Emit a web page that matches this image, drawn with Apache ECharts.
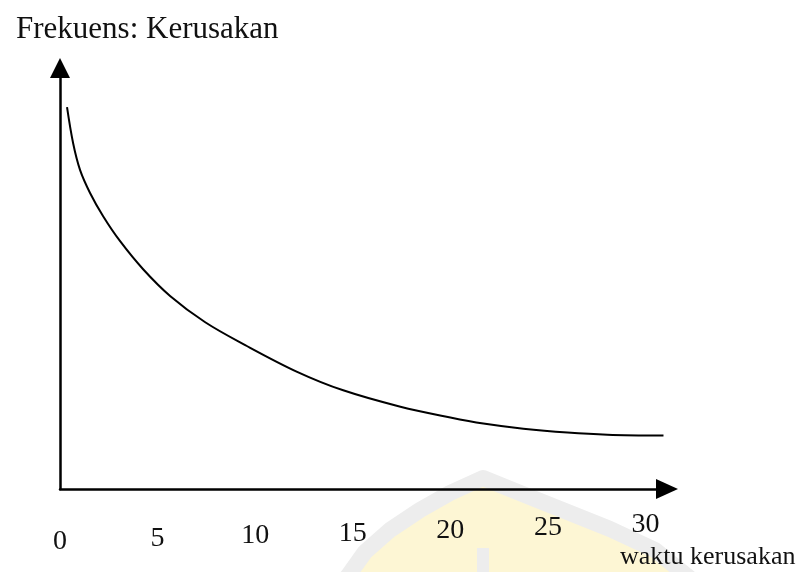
<!DOCTYPE html>
<html>
<head>
<meta charset="utf-8">
<script src="https://cdn.jsdelivr.net/npm/echarts@6/dist/echarts.min.js"></script>
<style>html,body{margin:0;padding:0;background:#fff}#c{width:809px;height:572px}</style>
</head>
<body>
<div id="c"></div>
<script>
var titleText = 'Frekuens: Kerusakan';
var xAxisName = 'waktu kerusakan';
var xTickLabels = [0, 5, 10, 15, 20, 25, 30];
var timeValues = [0.36, 0.67, 1.03, 1.54, 2.21, 3.08, 4.26, 5.64, 7.44, 9.49, 12.15, 14.51, 17.44, 20.0, 21.69, 23.74, 26.0, 28.05, 30.92];
var freqValues = [88.6, 80.3, 74.0, 68.7, 63.3, 57.5, 51.0, 44.8, 38.7, 33.4, 27.2, 22.9, 19.1, 16.6, 15.2, 14.0, 13.1, 12.6, 12.4];

var curve = timeValues.map(function (t, i) { return [t, freqValues[i]]; });

var chart = echarts.init(document.getElementById('c'));
var serif = '"Liberation Serif", "DejaVu Serif", serif';
chart.setOption({
  animation: false,
  backgroundColor: '#ffffff',
  graphic: [
    { type: 'polygon', z: -10, silent: true,
      shape: { points: [[345, 580], [365, 552], [390, 530], [420, 510], [450, 493], [483, 478], [520, 493], [560, 509], [610, 529], [655, 550], [692, 580]] },
      style: { fill: '#fdf6d4', stroke: '#ededed', lineWidth: 16, lineJoin: 'round' } },
    { type: 'rect', z: -9, silent: true,
      shape: { x: 477, y: 548, width: 12, height: 30 },
      style: { fill: '#ededed' } }
  ],
  title: [
    { text: titleText, left: 11, top: 9, textStyle: { fontFamily: serif, fontSize: 31, fontWeight: 'normal', color: '#111' } },
    { text: xAxisName, left: 615, top: 539, textStyle: { fontFamily: serif, fontSize: 26, fontWeight: 'normal', color: '#111' } }
  ],
  grid: { left: 60, right: 142, top: 68, bottom: 83, containLabel: false },
  xAxis: {
    type: 'value', min: 0, max: 31.1, interval: 5,
    axisLine: { show: true, symbol: ['none', 'triangle'], symbolSize: [20, 22], lineStyle: { color: '#000', width: 2.5 } },
    axisTick: { show: false },
    splitLine: { show: false },
    axisLabel: {
      margin: 22,
      fontFamily: serif, fontSize: 28, color: '#111',
      formatter: function (v) {
        if (xTickLabels.indexOf(v) < 0) return '';
        var k = Math.round((30 - v) / 5);
        return '{s' + k + '|' + v + '}';
      },
      rich: (function () {
        var r = {};
        for (var k = 0; k <= 6; k++) {
          r['s' + k] = { fontFamily: serif, fontSize: 28, color: '#111', padding: [Math.round(k * 17 / 6), 0, 0, 0] };
        }
        return r;
      })()
    }
  },
  yAxis: {
    type: 'value', min: 0, max: 97.7,
    axisLine: { show: true, symbol: ['none', 'triangle'], symbolSize: [20, 20], lineStyle: { color: '#000', width: 2.5 } },
    axisTick: { show: false },
    axisLabel: { show: false },
    splitLine: { show: false }
  },
  series: [{
    type: 'line',
    data: curve,
    smooth: 0.35,
    showSymbol: false,
    lineStyle: { color: '#000', width: 2 }
  }]
});
</script>
</body>
</html>
